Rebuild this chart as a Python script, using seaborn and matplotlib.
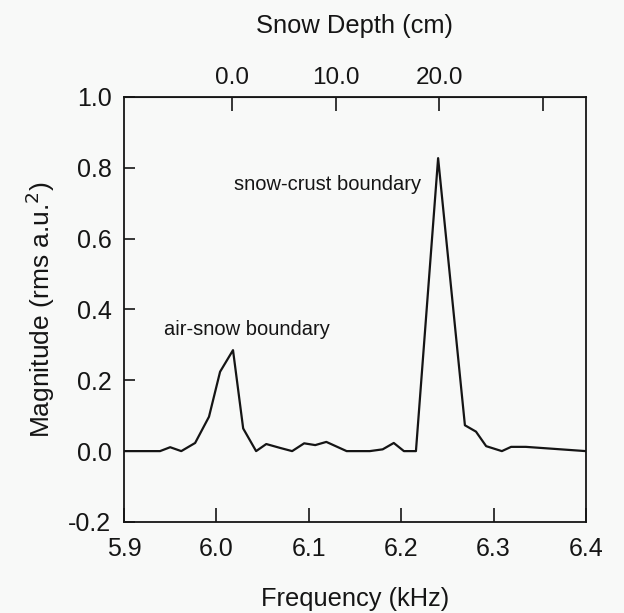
import matplotlib
matplotlib.use("Agg")
import matplotlib.pyplot as plt
import seaborn as sns
import pandas as pd

freq_khz = [5.900, 5.939, 5.950, 5.962, 5.977, 5.992, 6.004, 6.018, 6.029, 6.043,
            6.054, 6.069, 6.082, 6.095, 6.107, 6.119, 6.141, 6.166, 6.180, 6.192,
            6.203, 6.216, 6.240, 6.269, 6.281, 6.292, 6.309, 6.319, 6.335, 6.400]
magnitude = [0.000, 0.000, 0.011, 0.000, 0.023, 0.097, 0.224, 0.285, 0.064, 0.000,
             0.020, 0.009, 0.000, 0.022, 0.017, 0.026, 0.000, 0.000, 0.005, 0.023,
             0.000, 0.000, 0.827, 0.073, 0.055, 0.014, 0.000, 0.012, 0.012, 0.000]

x_ticks = [5.9, 6.0, 6.1, 6.2, 6.3, 6.4]
y_ticks = [-0.2, 0.0, 0.2, 0.4, 0.6, 0.8, 1.0]
depth_ticks = [0.0, 10.0, 20.0, 30.0]
depth_labels = ["0.0", "10.0", "20.0", ""]
depth_zero_freq = 6.0169      # kHz at 0 cm
khz_per_10cm = 0.1122

annotations = [("air-snow boundary", 6.033, 0.343), ("snow-crust boundary", 6.120, 0.753)]

sns.set_style("ticks")
plt.rcParams["font.family"] = ["Liberation Sans", "DejaVu Sans"]

df = pd.DataFrame({"freq": freq_khz, "mag": magnitude})

ink = "#151515"
bg = "#f8f9f8"
fig = plt.figure(figsize=(6.24, 6.13), dpi=100)
fig.patch.set_facecolor(bg)
ax = fig.add_axes([0.1987, 0.1485, 0.7403, 0.6935])
ax.set_facecolor(bg)

sns.lineplot(data=df, x="freq", y="mag", ax=ax, color=ink, linewidth=1.6)

ax.set_xlim(5.9, 6.4)
ax.set_ylim(-0.2, 1.0)
ax.set_xticks(x_ticks)
ax.set_xticklabels([f"{v:.1f}" for v in x_ticks])
ax.set_yticks(y_ticks)
ax.set_yticklabels([f"{v:.1f}" for v in y_ticks])
ax.tick_params(axis="x", direction="in", length=10, width=1.2, labelsize=18, pad=10.5, colors=ink)
ax.tick_params(axis="y", direction="in", length=8, width=1.2, labelsize=18, pad=9, colors=ink)
for s in ax.spines.values():
    s.set_linewidth(1.3)
    s.set_color(ink)

ax.set_xlabel("Frequency (kHz)", fontsize=18.3, labelpad=19, color=ink)
ax.set_ylabel("Magnitude (rms a.u.$^2$)", fontsize=19, labelpad=8, color=ink)

def f2d(f):
    return (f - depth_zero_freq) / khz_per_10cm * 10.0

def d2f(d):
    return d / 10.0 * khz_per_10cm + depth_zero_freq

sec = ax.secondary_xaxis("top", functions=(f2d, d2f))
sec.set_xticks(depth_ticks)
sec.set_xticklabels(depth_labels)
sec.tick_params(axis="x", direction="in", length=10, width=1.2, labelsize=17.5, pad=6, colors=ink)
sec.set_xlabel("Snow Depth (cm)", fontsize=18.4, labelpad=24, color=ink)

for txt, xv, yv in annotations:
    ax.text(xv, yv, txt, fontsize=14.5, ha="center", va="center", color=ink)

fig.savefig("out.png", dpi=100, facecolor=fig.get_facecolor())
